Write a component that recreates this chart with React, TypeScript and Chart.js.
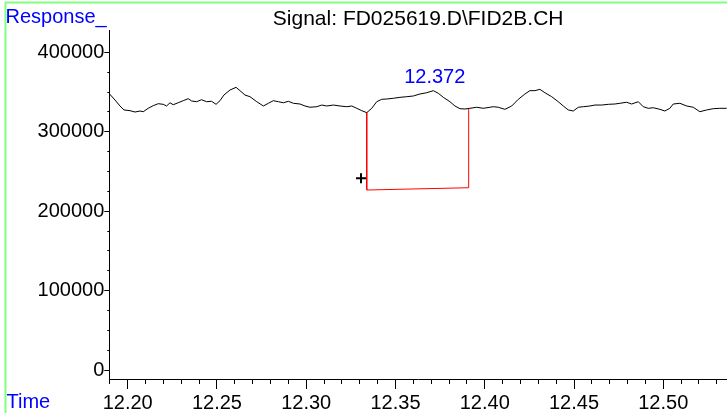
import { useEffect, useRef } from 'react';
import { Chart, registerables } from 'chart.js';

Chart.register(...registerables);

// ---- data ----
const traceTime = [
  12.1897, 12.1929, 12.1957, 12.1979, 12.2013, 12.2041, 12.2069, 12.2087, 12.2115, 12.2143,
  12.2171, 12.2199, 12.2218, 12.2237, 12.2255, 12.2283, 12.2311, 12.2339, 12.2358, 12.2386,
  12.2414, 12.2442, 12.247, 12.2495, 12.2517, 12.2539, 12.2573, 12.2607, 12.2629, 12.2657,
  12.2685, 12.2723, 12.276, 12.2788, 12.2816, 12.2844, 12.2872, 12.29, 12.2928, 12.2965,
  12.2993, 12.3021, 12.3059, 12.3087, 12.3115, 12.3152, 12.3189, 12.3227, 12.3255, 12.3283,
  12.3311, 12.3339, 12.3367, 12.3395, 12.3423, 12.3451, 12.3488, 12.3525, 12.3563, 12.36,
  12.3637, 12.3675, 12.3712, 12.374, 12.3768, 12.3805, 12.3833, 12.3861, 12.3889, 12.3917,
  12.3955, 12.3992, 12.4029, 12.4048, 12.4076, 12.4113, 12.4151, 12.4188, 12.4225, 12.4253,
  12.4281, 12.4309, 12.4337, 12.4375, 12.4412, 12.444, 12.4468, 12.4496, 12.4524, 12.4552,
  12.4589, 12.4617, 12.4655, 12.4692, 12.4729, 12.4757, 12.4795, 12.4823, 12.486, 12.4888,
  12.4916, 12.4944, 12.4981, 12.5009, 12.5037, 12.5056, 12.5093, 12.5131, 12.5168, 12.5205,
  12.5243, 12.528, 12.5317, 12.5355,
];
const traceResponse = [
  347900, 339900, 332400, 327400, 326500, 324800, 326100, 325200, 329500, 332800,
  335300, 334500, 332400, 336500, 334000, 336500, 339100, 341600, 338700, 337800,
  340300, 337800, 338300, 334500, 339100, 346200, 352500, 355900, 351700, 346200,
  344100, 337800, 332400, 335800, 339100, 337800, 336500, 338300, 335800, 334900,
  332400, 330800, 331500, 333600, 332400, 333600, 332400, 331500, 332400, 329500,
  326500, 324000, 329500, 337800, 340800, 341200, 342100, 343300, 344100, 345000,
  347500, 349100, 351700, 348400, 343300, 337800, 332400, 329000, 328600, 329500,
  330800, 329500, 330800, 331500, 330800, 328200, 332400, 340800, 347500, 351700,
  351700, 353400, 349100, 344100, 337800, 332400, 327400, 326100, 330800, 331500,
  332400, 333600, 333600, 334500, 334900, 335800, 337100, 334900, 337800, 331500,
  329500, 330200, 328200, 326100, 329500, 334900, 335800, 332400, 330800, 325200,
  327400, 329000, 329500, 329500,
];
const baselineTime = [12.3339, 12.3339, 12.391, 12.391];
const baselineResponse = [324000, 226600, 229500, 328600];
const markerTime = [12.3307];
const markerResponse = [241400];
const peakTime = 12.372;
const peakLabelResponse = 361300;
const peakLabel = '12.372';

const xMajorTicks = [12.2, 12.25, 12.3, 12.35, 12.4, 12.45, 12.5];
const xMinorTicks = [
  12.19, 12.21, 12.22, 12.23, 12.24, 12.26, 12.27, 12.28, 12.29, 12.31, 12.32, 12.33, 12.34,
  12.36, 12.37, 12.38, 12.39, 12.41, 12.42, 12.43, 12.44, 12.46, 12.47, 12.48, 12.49, 12.51,
  12.52, 12.53,
];
const yMajorTicks = [0, 100000, 200000, 300000, 400000];
const yMinorTicks = [
  25000, 50000, 75000, 125000, 150000, 175000, 225000, 250000, 275000, 325000, 350000, 375000,
];
const titleText = 'Signal: FD025619.D\\FID2B.CH';
const yAxisTitle = 'Response_';
const xAxisTitle = 'Time';

const xMin = 12.1897;
const xMax = 12.5357;
const yMin = -11330;
const yMax = 427200;

const FAMILY = '"Liberation Sans", Arial, sans-serif';
const FONT = `20px ${FAMILY}`;
const TITLE_FONT = `21px ${FAMILY}`;

export default function App() {
  const ref = useRef<HTMLCanvasElement | null>(null);

  useEffect(() => {
    if (!ref.current) return;

    const overlay = {
      id: 'overlay',
      afterDraw(chart: any) {
        const { ctx, chartArea, scales } = chart;
        ctx.save();
        ctx.strokeStyle = '#80ff80';
        ctx.lineWidth = 2;
        ctx.beginPath();
        ctx.moveTo(5.5, 413);
        ctx.lineTo(5.5, 2.5);
        ctx.lineTo(727, 2.5);
        ctx.stroke();

        ctx.font = FONT;
        ctx.textBaseline = 'alphabetic';
        ctx.textAlign = 'left';
        ctx.fillStyle = '#0000ff';
        ctx.fillText(yAxisTitle, 5.5, 23);
        ctx.fillText(xAxisTitle, 6.5, 408);

        ctx.font = TITLE_FONT;
        ctx.fillStyle = '#000000';
        ctx.textAlign = 'center';
        ctx.fillText(titleText, (chartArea.left + chartArea.right) / 2, 25);

        ctx.font = FONT;
        ctx.fillStyle = '#0000ff';
        ctx.fillText(
          peakLabel,
          scales.x.getPixelForValue(peakTime),
          scales.y.getPixelForValue(peakLabelResponse)
        );
        ctx.restore();
      },
    };

    const chart = new Chart(ref.current, {
      type: 'line',
      data: {
        datasets: [
          {
            data: traceTime.map((x, i) => ({ x, y: traceResponse[i] })),
            borderColor: '#000000',
            borderWidth: 1,
            pointRadius: 0,
            tension: 0,
            xAxisID: 'x',
            yAxisID: 'y',
          },
          {
            data: baselineTime.map((x, i) => ({ x, y: baselineResponse[i] })),
            borderColor: '#ff0000',
            borderWidth: 1,
            pointRadius: 0,
            tension: 0,
            xAxisID: 'x',
            yAxisID: 'y',
          },
          {
            type: 'scatter',
            data: markerTime.map((x, i) => ({ x, y: markerResponse[i] })),
            pointStyle: 'cross',
            pointRadius: 5,
            borderColor: '#000000',
            backgroundColor: '#000000',
            borderWidth: 2,
            xAxisID: 'x',
            yAxisID: 'y',
          },
        ],
      } as any,
      options: {
        animation: false,
        responsive: false,
        maintainAspectRatio: false,
        devicePixelRatio: 1,
        events: [],
        layout: { autoPadding: false, padding: { left: 0, right: 0, top: 30.7, bottom: 0 } },
        plugins: { legend: { display: false }, tooltip: { enabled: false }, title: { display: false } },
        scales: {
          x: {
            type: 'linear',
            position: 'bottom',
            weight: 1,
            min: xMin,
            max: xMax,
            afterBuildTicks: (s: any) => {
              s.ticks = xMajorTicks.map((v) => ({ value: v }));
            },
            afterFit: (s: any) => {
              s.height = 34;
            },
            ticks: {
              color: '#000000',
              font: { family: FAMILY, size: 20 },
              padding: 2,
              maxRotation: 0,
              autoSkip: false,
              callback: (v: any) => Number(v).toFixed(2),
            },
            grid: { drawOnChartArea: false, drawTicks: true, tickLength: 10, tickColor: '#000000', tickWidth: 1 },
            border: { display: true, color: '#000000', width: 1 },
          },
          xMinor: {
            type: 'linear',
            position: 'bottom',
            weight: 0,
            min: xMin,
            max: xMax,
            afterBuildTicks: (s: any) => {
              s.ticks = xMinorTicks.map((v) => ({ value: v }));
            },
            afterFit: (s: any) => {
              s.height = 0;
            },
            ticks: { display: false },
            grid: { drawOnChartArea: false, drawTicks: true, tickLength: 5, tickColor: '#000000', tickWidth: 1 },
            border: { display: false },
          },
          y: {
            type: 'linear',
            position: 'left',
            weight: 1,
            min: yMin,
            max: yMax,
            afterBuildTicks: (s: any) => {
              s.ticks = yMajorTicks.map((v) => ({ value: v }));
            },
            afterFit: (s: any) => {
              s.width = 109.3;
            },
            ticks: {
              color: '#000000',
              font: { family: FAMILY, size: 20 },
              padding: 0,
              autoSkip: false,
              callback: (v: any) => String(v),
            },
            grid: { drawOnChartArea: false, drawTicks: true, tickLength: 5, tickColor: '#000000', tickWidth: 1 },
            border: { display: true, color: '#000000', width: 1 },
          },
          yMinor: {
            type: 'linear',
            position: 'left',
            weight: 0,
            min: yMin,
            max: yMax,
            afterBuildTicks: (s: any) => {
              s.ticks = yMinorTicks.map((v) => ({ value: v }));
            },
            afterFit: (s: any) => {
              s.width = 0;
            },
            ticks: { display: false },
            grid: { drawOnChartArea: false, drawTicks: true, tickLength: 2, tickColor: '#000000', tickWidth: 1 },
            border: { display: false },
          },
        },
      } as any,
      plugins: [overlay],
    });

    return () => chart.destroy();
  }, []);

  return (
    <div style={{ position: 'absolute', left: 0, top: 0, width: 727, height: 413, background: '#ffffff' }}>
      <canvas ref={ref} width={727} height={413} style={{ display: 'block', width: 727, height: 413 }} />
    </div>
  );
}
